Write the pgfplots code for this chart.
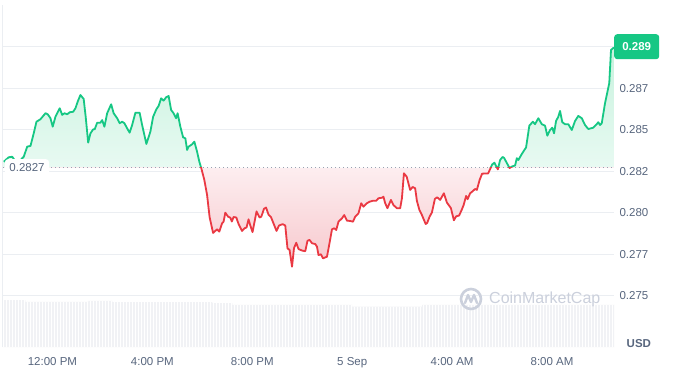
\documentclass[border=0pt]{standalone}
\usepackage{pgfplots}
\pgfplotsset{compat=1.18}
\usepackage{pgfplotstable}
\usetikzlibrary{patterns}
\usepackage{fontspec}
\setmainfont{Liberation Sans}
\definecolor{cmcgreen}{HTML}{16C784}
\definecolor{cmcred}{HTML}{EA3943}
\definecolor{labgray}{HTML}{58667E}
\definecolor{gridgray}{HTML}{EBEEF2}
\definecolor{volgray}{HTML}{F1F2F5}
\definecolor{wmgray}{HTML}{CBD0DC}
\definecolor{dotgray}{HTML}{9AA1B2}
\definecolor{gs}{RGB}{200,242,222}
\definecolor{gl}{RGB}{232,250,242}
\definecolor{rs}{RGB}{247,200,205}
\definecolor{rl}{RGB}{253,238,240}
\pgfdeclareverticalshading{greensh}{100bp}{color(0bp)=(gl); color(47.6bp)=(gl); color(75bp)=(gs); color(100bp)=(gs)}
\pgfdeclareverticalshading{redsh}{100bp}{color(0bp)=(rs); color(25bp)=(rs); color(47.6bp)=(rl); color(100bp)=(rl)}

\pgfplotstableread{
h p
-1.95 0.28307
-1.75 0.28334
-1.61 0.28337
-1.52 0.28317
-1.44 0.28307
-1.28 0.28317
-1.15 0.28337
-1.01 0.28398
-0.88 0.28402
-0.75 0.28478
-0.64 0.28548
-0.48 0.28563
-0.28 0.28599
-0.19 0.28593
-0.08 0.28569
0.01 0.28518
0.12 0.28578
0.19 0.28599
0.29 0.28629
0.39 0.28589
0.48 0.28599
0.59 0.28593
0.69 0.28605
0.83 0.28608
0.92 0.28629
1.01 0.28669
1.12 0.28709
1.25 0.28685
1.33 0.28578
1.43 0.28422
1.52 0.28478
1.63 0.28502
1.69 0.28502
1.79 0.28542
1.92 0.28542
1.99 0.28558
2.08 0.28518
2.19 0.28599
2.35 0.28653
2.45 0.28599
2.59 0.28569
2.69 0.28539
2.79 0.28548
2.88 0.28539
2.99 0.28508
3.09 0.28482
3.19 0.28528
3.32 0.28602
3.49 0.28602
3.59 0.28528
3.76 0.28414
3.92 0.28488
4.03 0.28578
4.16 0.28623
4.25 0.28643
4.35 0.28689
4.45 0.28675
4.55 0.28695
4.65 0.28703
4.75 0.28619
4.85 0.28599
4.95 0.28569
5.01 0.28599
5.12 0.28518
5.23 0.28454
5.32 0.28448
5.39 0.28378
5.45 0.28398
5.59 0.28412
5.68 0.28428
5.79 0.28367
5.88 0.28307
5.96 0.28267
6.08 0.28197
6.19 0.28107
6.29 0.27974
6.43 0.27878
6.59 0.27900
6.68 0.27886
6.79 0.27936
6.85 0.27946
6.92 0.28000
7.03 0.27976
7.12 0.27970
7.18 0.27947
7.25 0.27974
7.36 0.27971
7.45 0.27932
7.59 0.27890
7.69 0.27906
7.77 0.27911
7.85 0.27960
7.92 0.27923
8.01 0.27883
8.17 0.28008
8.29 0.27971
8.36 0.27976
8.47 0.28024
8.55 0.28031
8.65 0.27988
8.75 0.27973
8.85 0.27935
8.97 0.27890
9.07 0.27923
9.22 0.27931
9.32 0.27923
9.36 0.27860
9.41 0.27784
9.49 0.27777
9.59 0.27675
9.67 0.27787
9.76 0.27819
9.85 0.27781
9.99 0.27772
10.12 0.27768
10.21 0.27831
10.29 0.27836
10.39 0.27816
10.52 0.27811
10.59 0.27795
10.65 0.27745
10.75 0.27749
10.83 0.27725
10.99 0.27735
11.09 0.27816
11.19 0.27900
11.28 0.27906
11.36 0.27896
11.45 0.27946
11.59 0.27966
11.68 0.27986
11.79 0.27952
11.92 0.27950
12.03 0.27946
12.12 0.27976
12.25 0.27996
12.36 0.28057
12.45 0.28036
12.59 0.28057
12.69 0.28066
12.83 0.28072
12.96 0.28072
13.05 0.28087
13.19 0.28090
13.25 0.28096
13.32 0.28057
13.41 0.28027
13.55 0.28077
13.65 0.28046
13.79 0.28027
13.92 0.28027
13.99 0.28087
14.07 0.28237
14.18 0.28217
14.32 0.28137
14.42 0.28155
14.52 0.28147
14.59 0.28071
14.69 0.28016
14.79 0.27986
14.94 0.27932
15.00 0.27938
15.10 0.27977
15.19 0.28001
15.31 0.28083
15.40 0.28093
15.52 0.28077
15.67 0.28117
15.79 0.28061
15.95 0.28028
16.07 0.27954
16.16 0.27978
16.28 0.27983
16.38 0.28016
16.46 0.28046
16.56 0.28101
16.62 0.28081
16.72 0.28117
16.82 0.28129
16.92 0.28143
16.99 0.28137
17.10 0.28197
17.20 0.28235
17.33 0.28236
17.44 0.28236
17.54 0.28269
17.60 0.28290
17.69 0.28301
17.77 0.28278
17.83 0.28261
17.92 0.28317
18.02 0.28336
18.08 0.28330
18.19 0.28299
18.30 0.28269
18.39 0.28278
18.52 0.28284
18.59 0.28328
18.65 0.28317
18.79 0.28354
18.96 0.28393
19.09 0.28524
19.23 0.28548
19.32 0.28533
19.45 0.28569
19.59 0.28533
19.72 0.28524
19.81 0.28464
19.92 0.28498
20.01 0.28512
20.08 0.28478
20.16 0.28552
20.25 0.28578
20.32 0.28613
20.41 0.28545
20.52 0.28533
20.65 0.28533
20.79 0.28498
20.92 0.28552
21.05 0.28583
21.19 0.28569
21.32 0.28528
21.45 0.28504
21.65 0.28512
21.79 0.28533
21.85 0.28545
21.92 0.28528
21.99 0.28539
22.12 0.28659
22.29 0.28780
22.36 0.28980
22.43 0.28990
22.48 0.28994
}\pricedata

\pgfplotstableread{
h v
-1.98 13.7
-1.08 13.2
1.44 13.5
2.40 13.1
6.40 12.8
7.20 12.3
12.00 11.8
14.80 12.3
22.48 12.3
}\voldata

\begin{document}
\begin{tikzpicture}
\path[use as bounding box, fill=white] (0pt,0pt) rectangle (677pt,391pt);

% volume
\begin{axis}[
  at={(3pt,44pt)}, anchor=south west, scale only axis,
  width=611pt, height=342pt,
  xmin=-1.98, xmax=22.48, ymin=0, ymax=100,
  axis lines=none,
]
\addplot[const plot, fill=volgray, draw=none, postaction={pattern=vertical lines, pattern color=white}] table[x=h,y=v]{\voldata} \closedcycle;
\end{axis}

% price
\begin{axis}[
  at={(3pt,44pt)}, anchor=south west, scale only axis,
  width=611pt, height=342pt,
  xmin=-1.98, xmax=22.48, ymin=0.27191, ymax=0.29251,
  axis line style={draw=none},
  major tick style={draw=none},
  ymajorgrids, grid style={color=gridgray, line width=0.9pt},
  scaled y ticks=false,
  ytick={0.275,0.2775,0.28,0.2825,0.285,0.2875,0.29},
  yticklabels={0.275,0.277,0.280,0.282,0.285,0.287,{}},
  yticklabel pos=right,
  yticklabel style={font=\fontsize{11.5}{13}\selectfont, text=labgray, anchor=west, xshift=2pt},
  xtick={0,4,8,12,16,20},
  xticklabels={12:00 PM,4:00 PM,8:00 PM,5 Sep,4:00 AM,8:00 AM},
  xticklabel style={font=\fontsize{11.5}{13}\selectfont, text=labgray, yshift=-7pt},
]
\begin{scope}
\clip (axis cs:-3,0.2827) rectangle (axis cs:24,0.30);
\addplot[draw=none, shading=greensh] table[x=h,y=p]{\pricedata} -- (axis cs:22.48,0.2827) -- (axis cs:-1.95,0.2827) -- cycle;
\end{scope}
\begin{scope}
\clip (axis cs:-3,0.26) rectangle (axis cs:24,0.2827);
\addplot[draw=none, shading=redsh] table[x=h,y=p]{\pricedata} -- (axis cs:22.48,0.2827) -- (axis cs:-1.95,0.2827) -- cycle;
\end{scope}
\draw[dotgray, line width=0.8pt, dash pattern=on 0.8pt off 3.2pt] (axis cs:-1.98,0.2827) -- (axis cs:22.48,0.2827);
\begin{scope}
\clip (axis cs:-3,0.2827) rectangle (axis cs:24,0.30);
\addplot[cmcgreen, line width=1.8pt, line join=round] table[x=h,y=p]{\pricedata};
\end{scope}
\begin{scope}
\clip (axis cs:-3,0.26) rectangle (axis cs:24,0.2827);
\addplot[cmcred, line width=1.8pt, line join=round] table[x=h,y=p]{\pricedata};
\end{scope}
\end{axis}

% left border
\draw[gridgray, line width=0.9pt] (2.5pt,44pt) -- (2.5pt,386pt);

% baseline label
\node[fill=white, rounded corners=3pt, text=labgray, font=\fontsize{11.5}{13}\selectfont,
  minimum width=44pt, minimum height=16pt, inner sep=0pt] at (27pt,223.8pt) {0.2827};

% price badge
\node[fill=cmcgreen, rounded corners=3pt, text=white, font=\bfseries\fontsize{11.5}{13}\selectfont,
  minimum width=45pt, minimum height=25pt, inner sep=0pt] at (636.7pt,344.3pt) {0.289};

% USD
\node[text=labgray, font=\bfseries\fontsize{11.5}{13}\selectfont, anchor=west, inner sep=0pt] at (626.5pt,47pt) {USD};

% watermark
\draw[wmgray, line width=2.6pt] (471pt,92pt) circle (10pt);
\draw[wmgray, line width=2.4pt, line join=round, line cap=round] (465pt,88pt) -- (468pt,96pt) -- (471pt,89pt) -- (474pt,96pt) -- (477pt,88pt);
\node[text=wmgray, font=\fontsize{16}{18}\selectfont, anchor=west, inner sep=0pt] at (489pt,92pt) {CoinMarketCap};
\end{tikzpicture}
\end{document}
